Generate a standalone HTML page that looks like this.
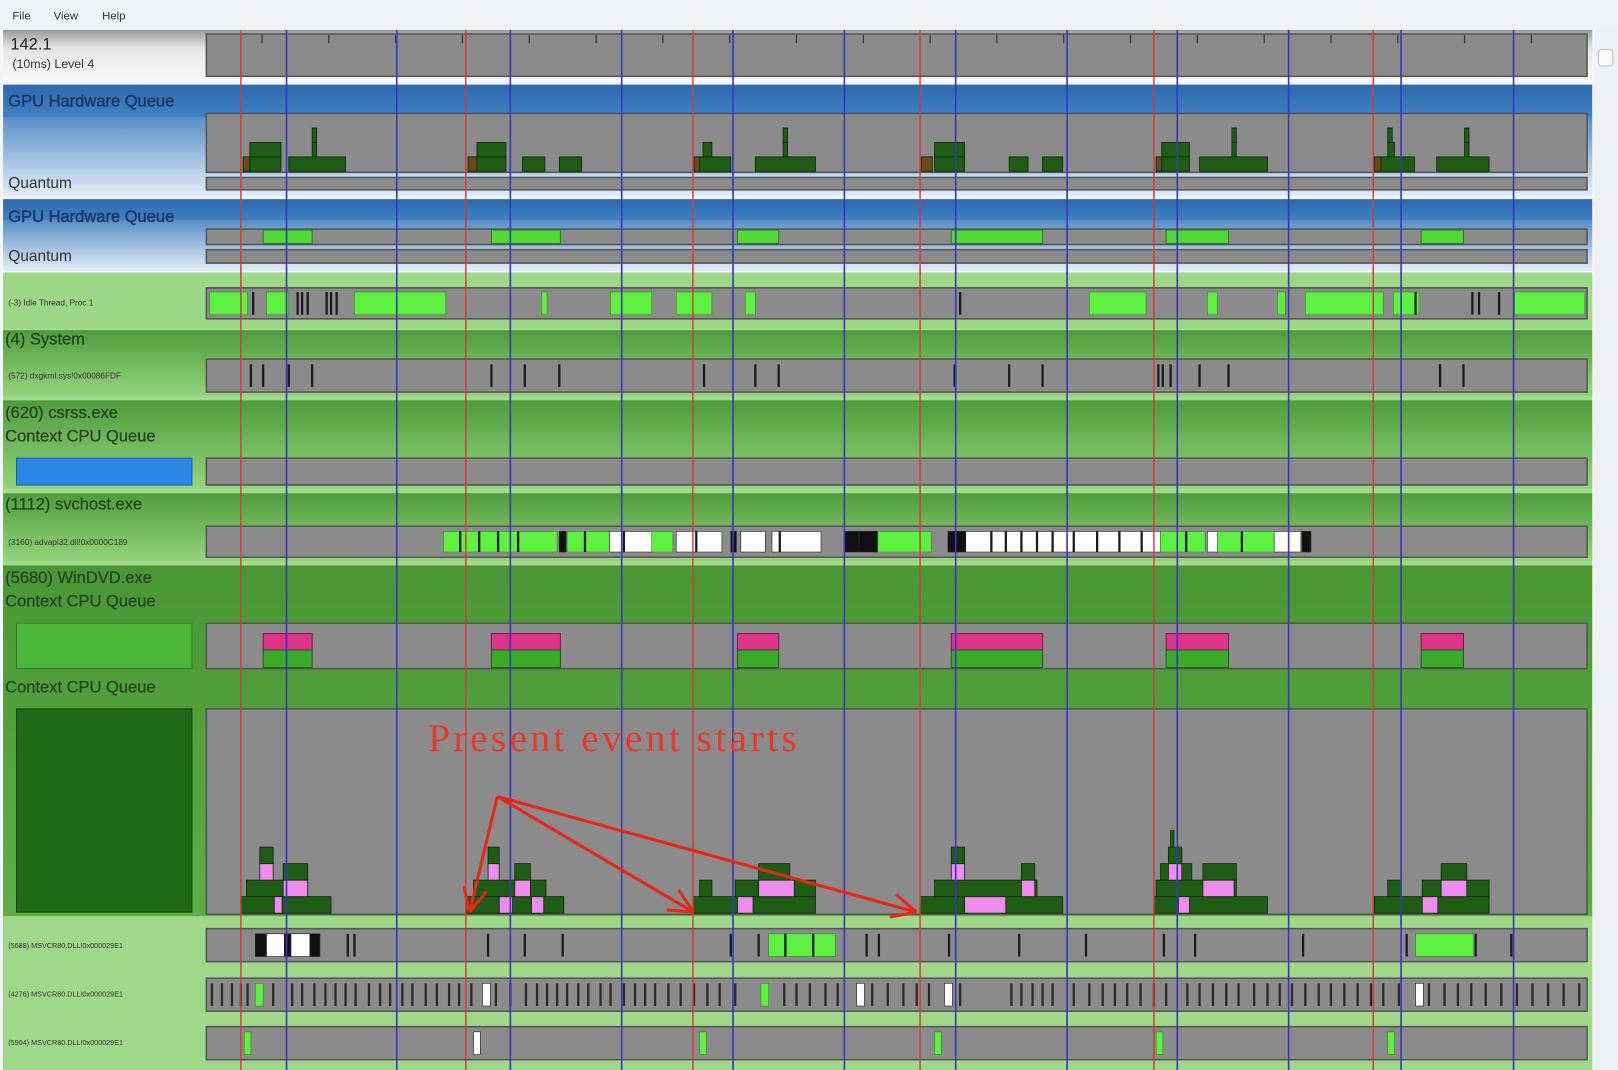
<!DOCTYPE html>
<html><head><meta charset="utf-8"><title>GPUView</title>
<style>
html,body{margin:0;padding:0;width:1618px;height:1070px;overflow:hidden;background:#f3f5f8;}
svg{display:block;font-family:"Liberation Sans",sans-serif;}
</style></head>
<body>
<svg id="chart" width="1618" height="1070" viewBox="0 0 1568 1037" preserveAspectRatio="none" xmlns="http://www.w3.org/2000/svg">
<defs>
<linearGradient id="gRuler" x1="0" y1="0" x2="0" y2="1"><stop offset="0" stop-color="#9a9a9a"/><stop offset="0.35" stop-color="#e4e4e4"/><stop offset="1" stop-color="#fbfbfb"/></linearGradient>
<linearGradient id="gBlue" x1="0" y1="0" x2="0" y2="1"><stop offset="0" stop-color="#2d6aae"/><stop offset="0.28" stop-color="#3f7fc2"/><stop offset="0.3" stop-color="#5a90c8"/><stop offset="1" stop-color="#e4edf7"/></linearGradient>
<linearGradient id="gGreen" x1="0" y1="0" x2="0" y2="1"><stop offset="0" stop-color="#4f9c3c"/><stop offset="1" stop-color="#94d47c"/></linearGradient>
<linearGradient id="gGreenDark" x1="0" y1="0" x2="0" y2="1"><stop offset="0" stop-color="#4a9636"/><stop offset="1" stop-color="#5cae45"/></linearGradient>
</defs>
<rect x="0" y="0" width="1568" height="1037" fill="#f3f5f8"/>
<rect x="0" y="0" width="1568" height="28" fill="#f0f2f6"/>
<text x="12" y="19" font-size="11" fill="#333">File</text>
<text x="52" y="19" font-size="11" fill="#333">View</text>
<text x="99" y="19" font-size="11" fill="#333">Help</text>
<rect x="1545" y="28" width="23" height="1009" fill="#eef0f3"/>
<rect x="1549" y="48" width="14" height="16" rx="3" fill="#fafafa" stroke="#bbb"/>
<rect x="3" y="29" width="1540" height="50" fill="url(#gRuler)"/>
<text x="10" y="48" font-size="16" fill="#222">142.1</text>
<text x="12" y="66" font-size="12" fill="#333">(10ms) Level 4</text>
<rect x="3" y="82" width="1540" height="108" fill="url(#gBlue)"/>
<rect x="3" y="193" width="1540" height="70" fill="url(#gBlue)"/>
<text x="8" y="103" font-size="16" fill="#173562" stroke="#173562" stroke-width="0.4">GPU Hardware Queue</text>
<text x="8" y="182" font-size="15" fill="#333">Quantum</text>
<text x="8" y="215" font-size="16" fill="#173562" stroke="#173562" stroke-width="0.4">GPU Hardware Queue</text>
<text x="8" y="253" font-size="15" fill="#333">Quantum</text>
<rect x="3" y="264" width="1540" height="773" fill="#a2da8c"/>
<rect x="3" y="266" width="1540" height="52" fill="#9bd785"/>
<rect x="3" y="320" width="1540" height="64" fill="url(#gGreen)"/>
<rect x="3" y="388" width="1540" height="86" fill="url(#gGreen)"/>
<rect x="3" y="478" width="1540" height="66" fill="url(#gGreen)"/>
<rect x="3" y="548" width="1540" height="340" fill="url(#gGreenDark)"/>
<text x="8" y="296" font-size="8" fill="#333">(-3) Idle Thread, Proc 1</text>
<text x="5" y="334" font-size="16" fill="#22461a" stroke="#22461a" stroke-width="0.3">(4) System</text>
<text x="8" y="367" font-size="8" fill="#333">(572) dxgkrnl.sys!0x00086FDF</text>
<text x="5" y="405" font-size="16" fill="#22461a" stroke="#22461a" stroke-width="0.3">(620) csrss.exe</text>
<text x="5" y="428" font-size="16" fill="#22461a" stroke="#22461a" stroke-width="0.3">Context CPU Queue</text>
<rect x="16" y="444" width="170" height="26" fill="#2b86e8" stroke="#1a5aa0"/>
<text x="5" y="494" font-size="16" fill="#22461a" stroke="#22461a" stroke-width="0.3">(1112) svchost.exe</text>
<text x="8" y="528" font-size="8" fill="#333">(3160) advapi32.dll!0x0000C189</text>
<text x="5" y="565" font-size="16" fill="#22461a" stroke="#22461a" stroke-width="0.3">(5680) WinDVD.exe</text>
<text x="5" y="588" font-size="16" fill="#22461a" stroke="#22461a" stroke-width="0.3">Context CPU Queue</text>
<rect x="16" y="604" width="170" height="44" fill="#4cb63a" stroke="#2f7a22"/>
<text x="5" y="671" font-size="16" fill="#22461a" stroke="#22461a" stroke-width="0.3">Context CPU Queue</text>
<rect x="16" y="687" width="170" height="197" fill="#1f6a17" stroke="#13440e"/>
<rect x="3" y="888" width="1540" height="149" fill="#9fd889"/>
<text x="8" y="919" font-size="7" fill="#333">(5688) MSVCR80.DLL!0x000029E1</text>
<text x="8" y="966" font-size="7" fill="#333">(4276) MSVCR80.DLL!0x000029E1</text>
<text x="8" y="1013" font-size="7" fill="#333">(5904) MSVCR80.DLL!0x000029E1</text>
<g id="tracks"></g>
<g id="marks"></g>
<g id="vlines"></g>
<g id="annot"></g>
</svg>
<script>
const vsyncTimes = [3.1, 23.3, 43.7, 64.1, 85.1, 104.8];
const gridTimes = [7.2, 17.1, 27.3, 37.3, 47.3, 57.3, 67.3, 77.3, 87.2, 97.2, 107.3, 117.4];
const rulerTicks = [5, 11, 17, 23, 29, 35, 41, 47, 53, 59, 65, 71, 77, 83, 89, 95, 101, 107, 113, 119];
const gpuPackets = [
 [3.3,0.6,0,'o'],[3.9,2.8,0,'d'],[3.9,2.8,1,'d'],[7.4,5.1,0,'d'],[9.5,0.4,1,'d'],[9.5,0.4,2,'d'],
 [23.5,0.8,0,'o'],[24.3,2.6,0,'d'],[24.3,2.6,1,'d'],[28.4,2.0,0,'d'],[31.7,2.0,0,'d'],
 [43.8,0.5,0,'o'],[44.3,2.8,0,'d'],[44.6,0.8,1,'d'],[49.3,5.4,0,'d'],[51.8,0.4,1,'d'],[51.8,0.4,2,'d'],
 [64.2,1.0,0,'o'],[65.4,2.7,0,'d'],[65.4,2.7,1,'d'],[72.1,1.7,0,'d'],[75.1,1.8,0,'d'],
 [85.3,0.5,0,'o'],[85.8,2.5,0,'d'],[85.8,2.5,1,'d'],[89.2,6.1,0,'d'],[92.1,0.4,1,'d'],[92.1,0.4,2,'d'],
 [104.9,0.6,0,'o'],[105.5,3.0,0,'d'],[106.1,0.6,1,'d'],[106.1,0.4,2,'d'],[110.5,4.7,0,'d'],[113.0,0.4,1,'d'],[113.0,0.4,2,'d']
];
const presentStarts = [5.1, 25.6, 47.7, 66.9, 86.2, 109.1];
const presentEnds = [9.5, 31.8, 51.4, 75.1, 91.8, 112.9];
const idleSegStart = [0.3,5.4,13.3,30.1,36.3,42.2,48.4,79.3,89.9,96.2,98.7,106.6,117.5];
const idleSegEnd   = [3.7,7.4,21.5,30.6,40.0,45.4,49.3,84.4,90.8,96.9,105.7,108.9,123.8];
const idleTicks = [4.2,8.2,8.6,9.1,10.8,11.2,11.7,67.7,108.6,113.7,114.3,116.1];
const systemTicks = [4.0,5.1,7.4,9.5,25.6,28.6,31.7,44.7,49.3,51.4,67.2,72.1,75.1,85.5,85.9,86.6,89.2,91.8,110.8,112.9];
const svchostSegs = [[21.3,31.5,'g'],[31.7,32.3,'k'],[32.4,36.2,'g'],[36.2,40.0,'w'],[40.0,41.9,'g'],[42.2,46.3,'w'],[47.1,47.6,'k'],[48.0,50.2,'w'],[50.8,55.2,'w'],[57.3,60.3,'k'],[60.3,65.1,'g'],[66.6,68.2,'k'],[68.2,85.7,'w'],[85.7,89.7,'g'],[89.9,90.8,'w'],[90.8,95.9,'g'],[95.9,98.3,'w'],[98.4,99.2,'k']];
const svchostTicks = [22.8,24.5,26.2,28.0,34.0,37.5,44.0,51.5,58.6,70.5,71.8,73.2,74.6,76.0,77.9,80.0,82.0,84.0,88.0,93.0];
const threadASegs = [[4.4,5.4,'k'],[5.4,7.0,'w'],[7.0,7.6,'k'],[7.6,9.3,'w'],[9.3,10.2,'k'],[50.5,56.5,'g'],[108.6,113.8,'g']];
const threadATicks = [12.7,13.3,25.3,28.6,32.0,47.1,49.6,52.0,54.5,59.3,60.4,66.7,73.0,79.0,86.0,88.8,98.5,107.8,114.0,117.2];
const threadBTicks = [0.5,1.4,2.3,3.1,3.7,6.0,7.7,8.6,9.7,10.7,11.6,12.5,13.4,14.6,15.6,16.5,17.6,18.5,19.7,20.7,21.8,22.7,23.8,26.0,27.3,28.7,29.7,30.6,31.5,32.4,33.4,34.3,35.4,36.3,37.5,38.5,39.4,40.3,41.5,42.6,43.8,45.0,46.1,47.5,51.9,53.0,54.2,55.6,56.7,59.8,61.2,62.6,63.8,64.9,67.7,72.3,73.2,74.2,75.1,76.0,77.9,79.3,80.5,81.6,82.7,83.9,85.1,86.2,88.1,89.2,90.4,91.6,92.7,94.1,95.3,96.4,97.5,98.7,99.9,101.0,102.2,103.4,104.6,105.7,107.1,109.8,111.2,112.4,113.6,114.9,116.3,117.7,119.1,120.5,121.9,123.3];
const threadBMarks = [[4.4,'g'],[24.8,'w'],[49.8,'g'],[58.4,'w'],[66.3,'w'],[108.6,'w']];
const threadCMarks = [[3.4,'g'],[24.0,'w'],[44.3,'g'],[65.4,'g'],[85.3,'g'],[106.1,'g']];
const cpuPackets = [
 [3.1,8.1,0,'d'],[6.1,0.7,0,'p'],[3.6,5.5,1,'d'],[6.9,2.2,1,'p'],[4.8,1.2,2,'p'],[6.9,2.2,2,'d'],[4.8,1.2,3,'d'],
 [23.3,8.8,0,'d'],[26.3,1.2,0,'p'],[29.2,1.1,0,'p'],[24.0,6.5,1,'d'],[27.7,1.4,1,'p'],[25.3,1.0,2,'p'],[27.7,1.4,2,'d'],[25.3,1.0,3,'d'],
 [43.7,11.0,0,'d'],[47.7,1.4,0,'p'],[44.3,1.1,1,'d'],[47.5,7.2,1,'d'],[49.6,3.2,1,'p'],[49.6,2.8,2,'d'],
 [64.1,12.8,0,'d'],[68.1,3.7,0,'p'],[65.4,9.2,1,'d'],[66.9,1.2,2,'p'],[66.9,1.2,3,'d'],[73.2,1.2,1,'p'],[73.2,1.2,2,'d'],
 [85.1,10.2,0,'d'],[87.3,1.0,0,'p'],[85.3,7.2,1,'d'],[89.5,2.8,1,'p'],[85.7,2.8,2,'d'],[89.5,3.0,2,'d'],[86.4,1.2,2,'p'],[86.4,1.2,3,'d'],[86.6,0.3,4,'d'],
 [104.9,10.3,0,'d'],[109.2,1.4,0,'p'],[106.1,1.2,1,'d'],[109.2,6.0,1,'d'],[110.9,2.3,1,'p'],[110.9,2.3,2,'d']
];
const T0 = 0, T1 = 124, X0 = 200, X1 = 1538;
function xs(t){ return X0 + (t - T0) / (T1 - T0) * (X1 - X0); }
const NS = 'http://www.w3.org/2000/svg';
function mk(parent, tag, attrs){ const e = document.createElementNS(NS, tag); for (const k in attrs) e.setAttribute(k, attrs[k]); parent.appendChild(e); return e; }
const tracks = document.getElementById('tracks');
const marks = document.getElementById('marks');
const trackDefs = [
 ['ruler-track',33,74],['gpu-queue-1-track',110,167],['gpu-quantum-1-track',172,184],['gpu-queue-2-track',222,237],['gpu-quantum-2-track',242,255],
 ['idle-thread-track',279,309],['system-thread-track',348,380],['csrss-queue-track',444,470],['svchost-thread-track',510,540],
 ['windvd-queue-track',604,648],['windvd-queue2-track',687,886],['thread-a-track',900,932],['thread-b-track',948,980],['thread-c-track',995,1027]
];
for (const d of trackDefs){
 const r = mk(tracks,'rect',{x:X0,y:d[1],width:X1-X0,height:d[2]-d[1],fill:'#8b8b8b',stroke:'#555',"stroke-width":1.5});
 
 
}
for (const t of rulerTicks){
 const l = mk(marks,'line',{x1:xs(t),x2:xs(t),y1:34,y2:42,stroke:'#333',"stroke-width":1.2});
 
 
}
const col = {d:'#1f5d16',o:'#6a4a1a',p:'#ee8cee',g:'#5ef040',w:'#ffffff',k:'#111111'};
function packet(t, dur, base, lvl, h, kind, name){
 const r = mk(marks,'rect',{x:xs(t),y:base-(lvl+1)*h,width:Math.max(xs(t+dur)-xs(t),2),height:h,fill:col[kind],stroke:'#0b2a07',"stroke-width":0.8});
 
 
}
for (const p of gpuPackets) packet(p[0],p[1],166,p[2],14,p[3],'gpu-packet');
for (const p of cpuPackets) packet(p[0],p[1],885,p[2],16,p[3],'cpu-packet');
presentStarts.forEach((s,i)=>{
 const e = presentEnds[i];
 const a = mk(marks,'rect',{x:xs(s),y:223,width:xs(e)-xs(s),height:13,fill:'#52d83a',stroke:'#2b7a1e'});
 
 
 const b = mk(marks,'rect',{x:xs(s),y:614,width:xs(e)-xs(s),height:16,fill:'#e0338c',stroke:'#7a1a4a'});
 
 
 const c = mk(marks,'rect',{x:xs(s),y:630,width:xs(e)-xs(s),height:17,fill:'#3caa2a',stroke:'#1f5d16'});
 
 
});
function seg(t0,t1,y0,y1,kind,name){
 const r = mk(marks,'rect',{x:xs(t0),y:y0,width:Math.max(xs(t1)-xs(t0),2),height:y1-y0,fill:col[kind],stroke:kind==='g'?'#2f8a20':'#222',"stroke-width":0.6});
 
 
}
function tick(t,y0,y1,name,color){
 const l = mk(marks,'line',{x1:xs(t),x2:xs(t),y1:y0,y2:y1,stroke:color||'#1a1a1a',"stroke-width":2.2});
 
 
}
idleSegStart.forEach((s,i)=>seg(s,idleSegEnd[i],283,305,'g','idle-slice'));
for (const t of idleTicks) tick(t,283,305,'idle-tick');
for (const t of systemTicks) tick(t,353,375,'system-tick');
for (const s of svchostSegs) seg(s[0],s[1],515,535,s[2],'svchost-slice');
for (const t of svchostTicks) tick(t,515,535,'svchost-tick');
for (const s of threadASegs) seg(s[0],s[1],905,927,s[2],'thread-a-slice');
for (const t of threadATicks) tick(t,905,927,'thread-a-tick');
for (const t of threadBTicks) tick(t,953,975,'thread-b-tick','#2a2a2a');
for (const m of threadBMarks) seg(m[0],m[0]+0.7,953,975,m[1],'thread-b-mark');
for (const m of threadCMarks) seg(m[0],m[0]+0.6,1000,1022,m[1],'thread-c-mark');
const vl = document.getElementById('vlines');
for (const t of vsyncTimes){
 const l = mk(vl,'line',{x1:xs(t),x2:xs(t),y1:29,y2:1037,stroke:'#d23a3a',"stroke-width":1.4});
 
 
}
for (const t of gridTimes){
 const l = mk(vl,'line',{x1:xs(t),x2:xs(t),y1:29,y2:1037,stroke:'#3a3ab8',"stroke-width":1.6});
 
 
}
const an = document.getElementById('annot');
const txt = mk(an,'text',{x:415,y:728,"font-size":38,fill:'#e8382a',"font-family":'"Liberation Serif",serif',textLength:357,lengthAdjust:'spacing'});
txt.textContent = 'Present event starts';


const targets = [[455,884],[672,884],[888,884]];
for (const tg of targets){
 const x0 = 482, y0 = 772;
 const l = mk(an,'line',{x1:x0,y1:y0,x2:tg[0],y2:tg[1],stroke:'#e8261a',"stroke-width":3});
 
 
 const ang = Math.atan2(tg[1]-y0, tg[0]-x0);
 const hl = 26;
 for (const da of [0.45,-0.45]){
  const h = mk(an,'line',{x1:tg[0],y1:tg[1],x2:tg[0]-hl*Math.cos(ang+da),y2:tg[1]-hl*Math.sin(ang+da),stroke:'#e8261a',"stroke-width":3});
  
  
 }
}
</script>
</body></html>
